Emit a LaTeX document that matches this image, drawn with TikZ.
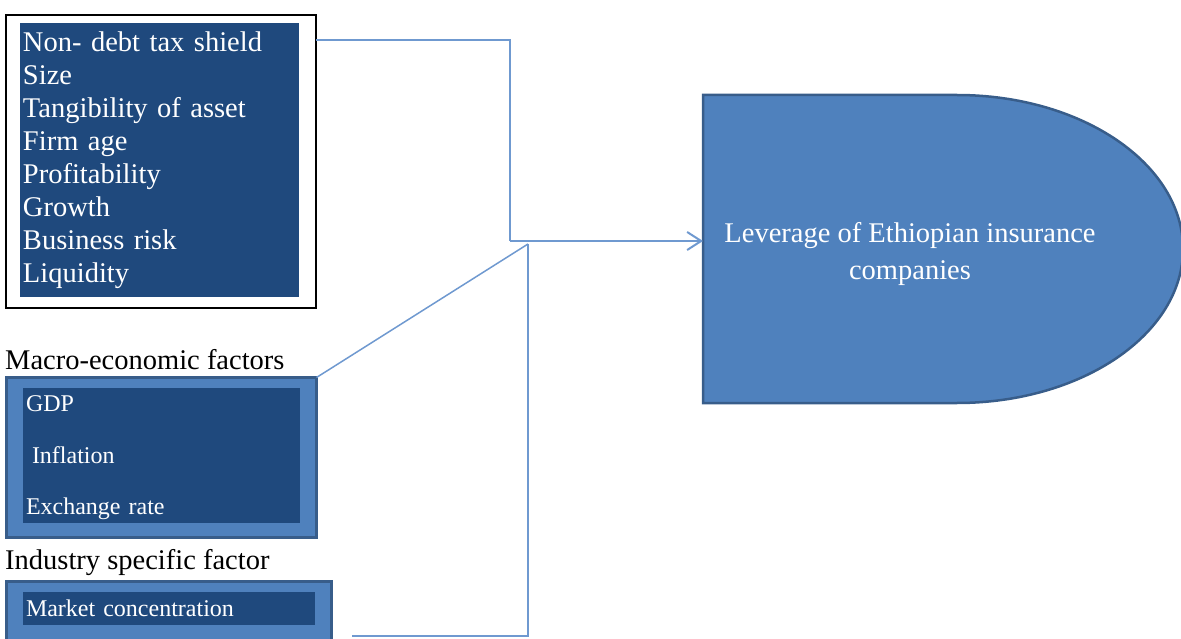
\documentclass[tikz,border=0pt]{standalone}
\usepackage{fontspec}
\setmainfont{Liberation Serif}
\usepackage{tikz}
\definecolor{darkfill}{RGB}{31, 73, 125}
\definecolor{midfill}{RGB}{79, 129, 189}
\definecolor{edge}{RGB}{56, 93, 138}
\definecolor{wire}{RGB}{111, 153, 208}
\usetikzlibrary{arrows.meta, positioning, calc}

\begin{document}
\begin{tikzpicture}[
    x=1pt, y=-1pt,
    inner/.style={rectangle, fill=darkfill, text=white, align=left,
                  anchor=north west, inner xsep=3pt, outer sep=0pt},
    outer/.style={rectangle, fill=midfill, draw=edge, line width=3pt,
                  anchor=north west, outer sep=0pt},
    heading/.style={inner sep=0pt, font=\fontsize{28.5}{33}\selectfont},
    link/.style={draw=wire, line width=1.5pt},
    arrow/.style={-{Straight Barb[length=14pt, width=18pt]}, draw=wire, line width=2pt}
]
    \useasboundingbox (0,0) rectangle (1181,639);
    \clip (0,0) rectangle (1181,639);

    % Firm specific box
    \node[draw=black, fill=white, line width=1.5pt, minimum width=310pt, minimum height=293pt,
          anchor=north west, outer sep=0pt] (firmframe) at (6,15) {};
    \node[inner, minimum width=279pt, minimum height=274pt, text width=273pt,
          font=\fontsize{28.5}{33}\selectfont] (firm) at (20,23)
          {Non- debt tax shield\\Size\\Tangibility of asset\\Firm age\\Profitability\\Growth\\Business risk\\Liquidity};

    % Macro-economic box
    \node[outer, minimum width=310pt, minimum height=160pt] (macroframe) at (6.5,377.5) {};
    \node[inner, minimum width=277pt, minimum height=132pt, text width=271pt,
          font=\fontsize{24}{51.5}\selectfont] (macro) at (23,388)
          {\rule{0pt}{20.5pt}GDP\\\hspace*{6pt}Inflation\\Exchange rate};
    \node[heading, above right=8pt and -1.5pt of macroframe.north west] (macrolabel) {Macro-economic factors};

    % Industry box
    \node[outer, minimum width=325pt, minimum height=90pt] (industryframe) at (6.5,581.5) {};
    \node[inner, minimum width=292pt, minimum height=33pt, text width=286pt,
          font=\fontsize{24}{28}\selectfont] (industry) at (23,592) {Market concentration};
    \node[heading, above right=6pt and -1.5pt of industryframe.north west] (industrylabel) {Industry specific factor};

    % Leverage shape
    \node[minimum width=254pt, minimum height=308pt, anchor=north west, outer sep=0pt] (lever) at (703,95) {};
    \draw[fill=midfill, draw=edge, line width=2.5pt] (lever.north west) -- (lever.north east)
        arc[start angle=90, end angle=-90, x radius=226pt, y radius=154pt] -- (lever.south west) -- cycle;
    \node[text=white, align=center, font=\fontsize{28.5}{37}\selectfont] (levertext) at (910,254)
        {Leverage of Ethiopian insurance\\companies};

    % Connectors
    \coordinate (hub) at (510,241);
    \coordinate (meet) at (528,244);
    \coordinate (tail) at (352,636);
    \draw[link] ([yshift=-25pt]firmframe.north east) -| (hub);
    \draw[arrow] (hub) -- (hub -| lever.west);
    \draw[link] (macroframe.north east) -- (meet);
    \draw[link] (tail) -| (meet);
\end{tikzpicture}
\end{document}
